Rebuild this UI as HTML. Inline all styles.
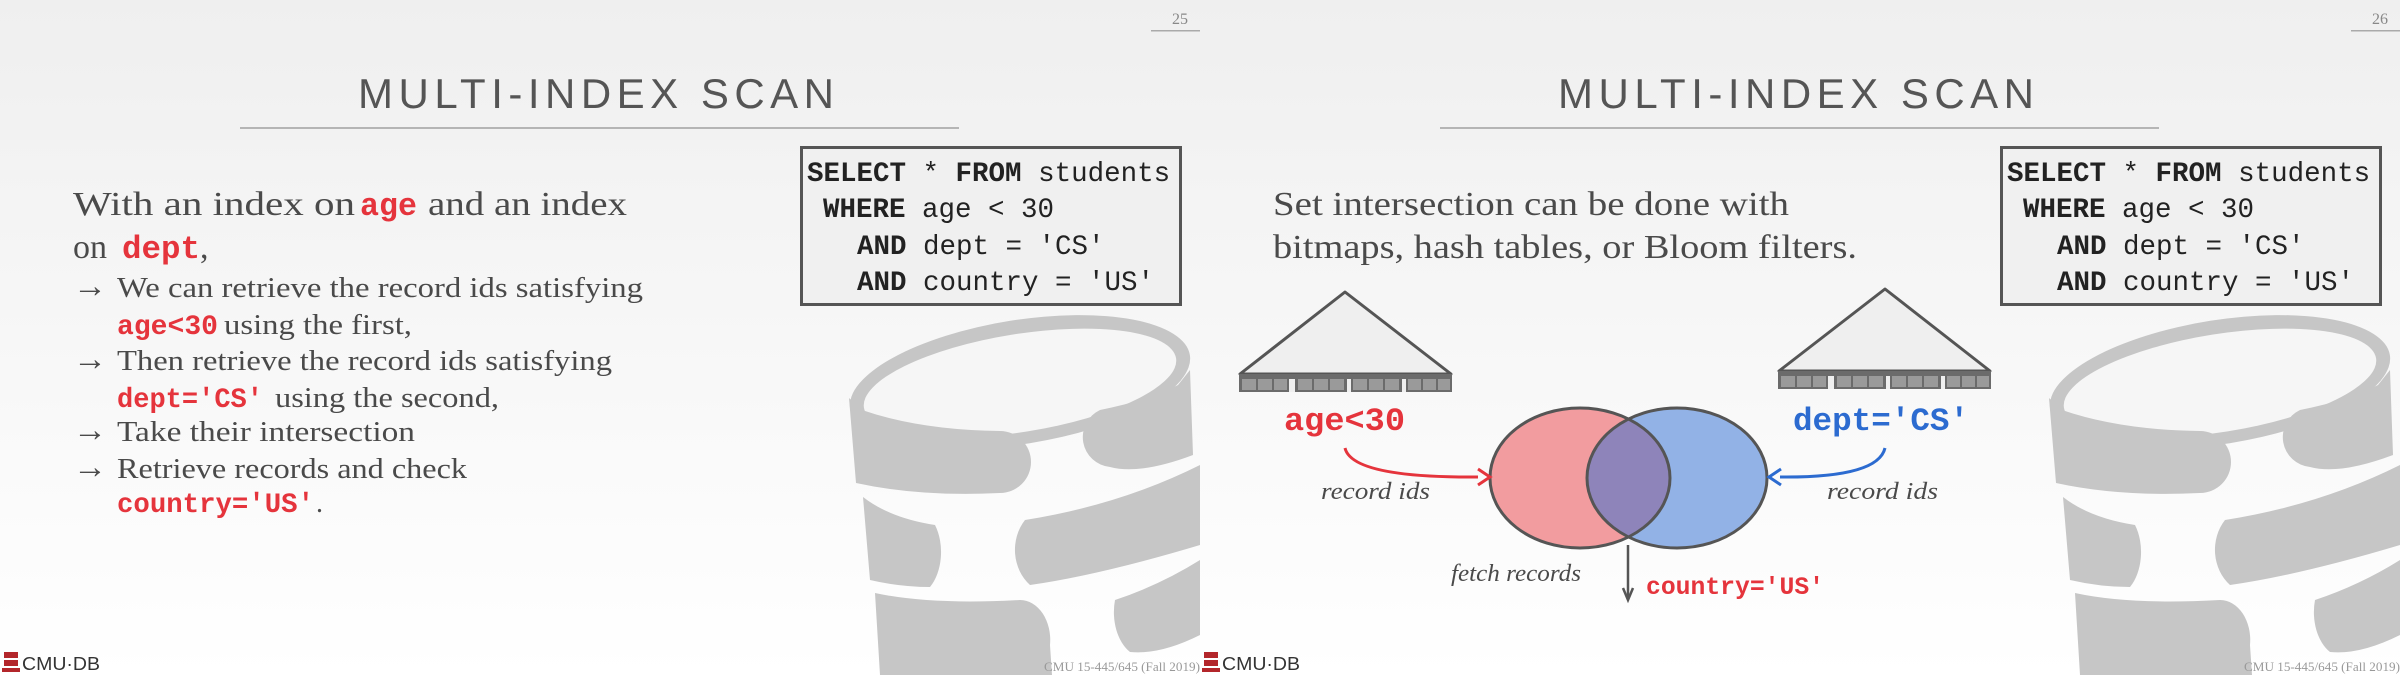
<!DOCTYPE html>
<html><head><meta charset="utf-8"><style>
html,body{margin:0;padding:0;width:2400px;height:675px;overflow:hidden;background:#fff}
svg{display:block}
.serif{font-family:"Liberation Serif",serif;fill:#4a4a4a}
.mono{font-family:"Liberation Mono",monospace}
.red{fill:#e5343c;font-weight:bold}
.blue{fill:#2c6bd0;font-weight:bold}
</style></head><body>
<svg width="2400" height="675" viewBox="0 0 2400 675" xmlns="http://www.w3.org/2000/svg">
<defs>
<linearGradient id="bg" x1="0" y1="0" x2="0" y2="1">
<stop offset="0" stop-color="#efefef"/><stop offset="1" stop-color="#ffffff"/>
</linearGradient>
<g id="db" fill="#c6c6c6">
<ellipse cx="1020" cy="382" rx="172" ry="62" transform="rotate(-9 1020 382)"/>
<ellipse cx="1020" cy="383" rx="158" ry="49" transform="rotate(-9 1020 383)" fill="#f6f6f6"/>
<path d="M849,398 L856,483 Q920,497 1000,493 A31,31 0 0 0 1000,431 Q920,430 862,410 Z"/>
<path d="M1190,370 L1193,455 Q1140,475 1110,467 A30,30 0 0 1 1100,410 Q1150,400 1178,385 Z"/>
<path d="M863,497 L870,580 Q900,587 930,587 A30,45 0 0 0 935,525 Q890,518 863,497 Z"/>
<path d="M1200,450 L1200,545 Q1100,575 1030,585 A40,45 0 0 1 1025,520 Q1120,505 1200,465 Z"/>
<path d="M875,593 L880,675 L1052,675 L1050,645 A30,40 0 0 0 1020,600 Q930,605 875,593 Z"/>
<path d="M1200,560 L1200,635 Q1160,655 1130,652 A30,45 0 0 1 1115,600 Q1160,585 1200,560 Z"/>
</g>
<g id="bar">
<rect x="0" y="0" width="213" height="18" fill="#6b6b6b"/>
<rect x="50" y="5" width="6" height="13" fill="#efefef"/>
<rect x="108" y="5" width="4" height="13" fill="#efefef"/>
<rect x="163" y="5" width="4" height="13" fill="#efefef"/>
<g fill="#9a9a9a">
<rect x="3" y="5" width="14" height="11"/><rect x="19" y="5" width="14" height="11"/><rect x="35" y="5" width="13" height="11"/>
<rect x="59" y="5" width="14" height="11"/><rect x="75" y="5" width="14" height="11"/><rect x="91" y="5" width="14" height="11"/>
<rect x="114" y="5" width="14" height="11"/><rect x="130" y="5" width="14" height="11"/><rect x="146" y="5" width="14" height="11"/>
<rect x="169" y="5" width="13" height="11"/><rect x="184" y="5" width="13" height="11"/><rect x="199" y="5" width="12" height="11"/>
</g>
</g>
<g id="common">
<rect x="1151" y="30" width="49" height="1.5" fill="#aaa"/>
<text x="358" y="108" font-family="Liberation Sans,sans-serif" font-size="42" fill="#555" textLength="476" lengthAdjust="spacing">MULTI-INDEX SCAN</text>
<rect x="240" y="127" width="719" height="2" fill="#b5b5b5"/>
<use href="#db"/>
<rect x="801.5" y="147.5" width="379" height="157" fill="#f0f0f0" stroke="#555" stroke-width="3"/>
<g class="mono" font-size="27.5" fill="#222" xml:space="preserve">
<text x="807" y="181"><tspan font-weight="bold">SELECT</tspan> * <tspan font-weight="bold">FROM</tspan> students</text>
<text x="823" y="217"><tspan font-weight="bold">WHERE</tspan> age &lt; 30</text>
<text x="857" y="254"><tspan font-weight="bold">AND</tspan> dept = 'CS'</text>
<text x="857" y="290"><tspan font-weight="bold">AND</tspan> country = 'US'</text>
</g>
<g>
<path d="M4,652 h14 v6 h-14 z M4,660 h14 v6 h-14 z M2,668 h18 v4 h-18z" fill="#b3262b"/>
<text x="22" y="670" font-family="Liberation Sans,sans-serif" font-size="18" fill="#333" textLength="78" lengthAdjust="spacingAndGlyphs">CMU·DB</text>
</g>
<text x="1044" y="671" font-family="Liberation Serif,serif" font-size="13" fill="#999" textLength="156" lengthAdjust="spacingAndGlyphs">CMU 15-445/645 (Fall 2019)</text>
</g>
</defs>

<rect x="0" y="0" width="2400" height="675" fill="url(#bg)"/>

<!-- Slide 25 -->
<use href="#common"/>
<text x="1172" y="24" font-family="Liberation Serif,serif" font-size="16" fill="#888">25</text>
<g font-size="34">
<text x="73" y="215" class="serif" textLength="282" lengthAdjust="spacingAndGlyphs">With an index on</text>
<text x="360" y="215" class="mono red" font-size="32" textLength="57" lengthAdjust="spacingAndGlyphs">age</text>
<text x="428" y="215" class="serif" textLength="199" lengthAdjust="spacingAndGlyphs">and an index</text>
<text x="73" y="258" class="serif">on</text>
<text x="122" y="258" class="mono red" font-size="32" textLength="78" lengthAdjust="spacingAndGlyphs">dept</text>
<text x="200" y="258" class="serif">,</text>
</g>
<g font-size="28">
<text x="73" y="297" class="serif" font-size="34">→</text>
<text x="117" y="297" class="serif" textLength="526" lengthAdjust="spacingAndGlyphs">We can retrieve the record ids satisfying</text>
<text x="117" y="334" class="mono red" textLength="101" lengthAdjust="spacingAndGlyphs">age&lt;30</text>
<text x="224" y="334" class="serif" textLength="188" lengthAdjust="spacingAndGlyphs">using the first,</text>
<text x="73" y="370" class="serif" font-size="34">→</text>
<text x="117" y="370" class="serif" textLength="495" lengthAdjust="spacingAndGlyphs">Then retrieve the record ids satisfying</text>
<text x="117" y="407" class="mono red" textLength="146" lengthAdjust="spacingAndGlyphs">dept='CS'</text>
<text x="275" y="407" class="serif" textLength="224" lengthAdjust="spacingAndGlyphs">using the second,</text>
<text x="73" y="441" class="serif" font-size="34">→</text>
<text x="117" y="441" class="serif" textLength="298" lengthAdjust="spacingAndGlyphs">Take their intersection</text>
<text x="73" y="478" class="serif" font-size="34">→</text>
<text x="117" y="478" class="serif" textLength="350" lengthAdjust="spacingAndGlyphs">Retrieve records and check</text>
<text x="117" y="512" class="mono red" textLength="197" lengthAdjust="spacingAndGlyphs">country='US'</text>
<text x="316" y="512" class="serif">.</text>
</g>

<!-- Slide 26 -->
<g transform="translate(1200,0)">
<use href="#common"/>
</g>
<text x="2372" y="24" font-family="Liberation Serif,serif" font-size="16" fill="#888">26</text>
<g font-size="34">
<text x="1273" y="215" class="serif" textLength="516" lengthAdjust="spacingAndGlyphs">Set intersection can be done with</text>
<text x="1273" y="258" class="serif" textLength="584" lengthAdjust="spacingAndGlyphs">bitmaps, hash tables, or Bloom filters.</text>
</g>
<polygon points="1345,292 1240,374 1451,374" fill="#efefef" stroke="#555" stroke-width="3" stroke-linejoin="round"/>
<use href="#bar" x="1239" y="374"/>
<polygon points="1885,289 1779,371 1990,371" fill="#efefef" stroke="#555" stroke-width="3" stroke-linejoin="round"/>
<use href="#bar" x="1778" y="371"/>
<text x="1284" y="430" class="mono red" font-size="32" textLength="121" lengthAdjust="spacingAndGlyphs">age&lt;30</text>
<text x="1793" y="430" class="mono blue" font-size="32" textLength="176" lengthAdjust="spacingAndGlyphs">dept='CS'</text>
<clipPath id="rc"><ellipse cx="1580" cy="478" rx="90" ry="70"/></clipPath>
<ellipse cx="1580" cy="478" rx="90" ry="70" fill="#f29c9f"/>
<ellipse cx="1677" cy="478" rx="90" ry="70" fill="#92b2e6"/>
<ellipse cx="1677" cy="478" rx="90" ry="70" fill="#8e84ba" clip-path="url(#rc)"/>
<ellipse cx="1580" cy="478" rx="90" ry="70" fill="none" stroke="#555" stroke-width="3"/>
<ellipse cx="1677" cy="478" rx="90" ry="70" fill="none" stroke="#555" stroke-width="3"/>
<path d="M1345,448 Q1352,478 1478,477" fill="none" stroke="#e5343c" stroke-width="3"/>
<path d="M1478,469 L1490,477 L1478,485" fill="none" stroke="#e5343c" stroke-width="3"/>
<path d="M1885,448 Q1878,478 1780,477" fill="none" stroke="#2c6bd0" stroke-width="3"/>
<path d="M1781,469 L1769,477 L1781,485" fill="none" stroke="#2c6bd0" stroke-width="3"/>
<line x1="1628" y1="545" x2="1628" y2="598" stroke="#555" stroke-width="2.5"/>
<path d="M1623,588 L1628,600 L1633,588" fill="none" stroke="#555" stroke-width="2.5"/>
<g font-size="24" font-style="italic">
<text x="1321" y="499" class="serif" textLength="109" lengthAdjust="spacingAndGlyphs">record ids</text>
<text x="1827" y="499" class="serif" textLength="111" lengthAdjust="spacingAndGlyphs">record ids</text>
<text x="1451" y="581" class="serif" textLength="130" lengthAdjust="spacingAndGlyphs">fetch records</text>
</g>
<text x="1646" y="594" class="mono red" font-size="25" textLength="178" lengthAdjust="spacingAndGlyphs">country='US'</text>
</svg>
</body></html>
